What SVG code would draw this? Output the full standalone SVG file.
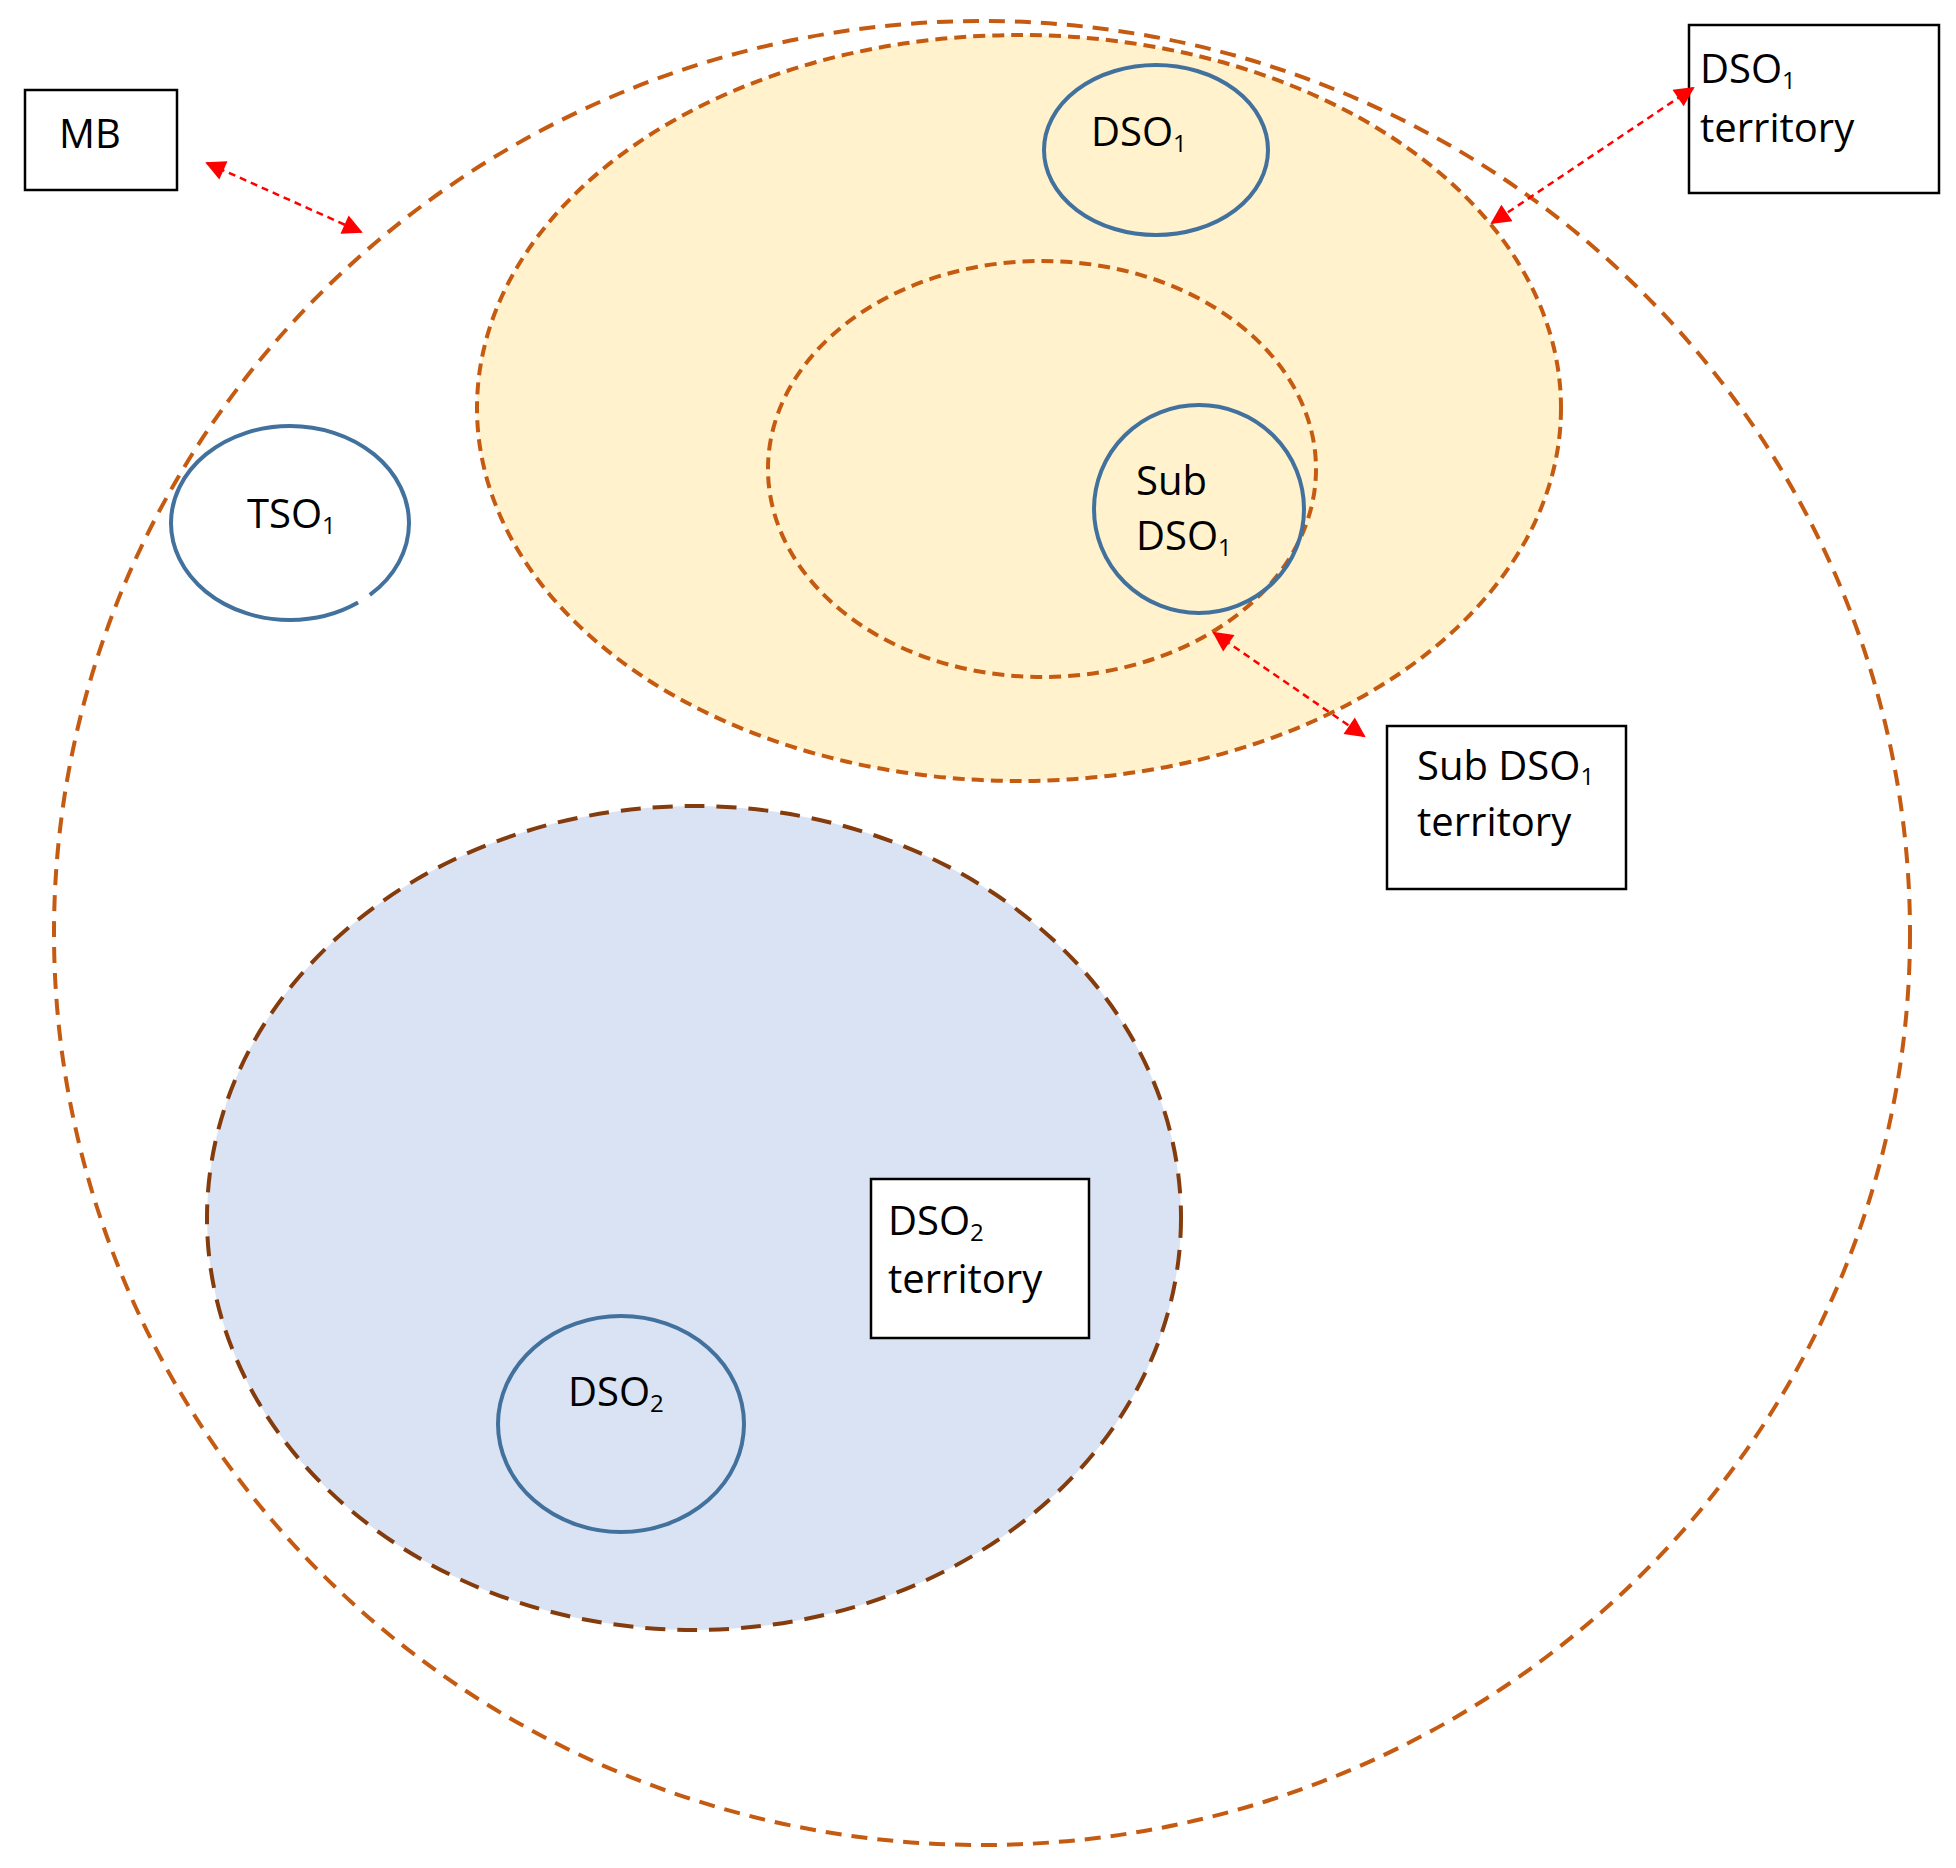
<svg xmlns="http://www.w3.org/2000/svg" width="1956" height="1868" viewBox="0 0 1956 1868">
<defs>
<marker id="ah" viewBox="0 0 10 10" refX="9" refY="5" markerWidth="9" markerHeight="8" orient="auto-start-reverse" markerUnits="strokeWidth"><path d="M0,0 L10,5 L0,10 z" fill="#FF0000"/></marker>
</defs>
<style>
.terr{fill:none;stroke:#C55A11;stroke-width:4;stroke-dasharray:16 10}
.node{fill:none;stroke:#41719C;stroke-width:4}
.box{fill:#fff;stroke:#000;stroke-width:2.5}
.lbl{font-family:"Open Sans","DejaVu Sans",sans-serif;font-size:40px;fill:#000}
.sub{font-size:24px}
.conn{stroke:#FF0000;stroke-width:2.5;stroke-dasharray:7 5;fill:none;marker-start:url(#ah);marker-end:url(#ah)}
</style>
<rect width="1956" height="1868" fill="#fff"/>
<g id="mb-area"><ellipse class="terr" cx="982" cy="933" rx="928" ry="912" stroke-dasharray="22 14"/></g>
<g id="dso1-territory"><ellipse cx="1019" cy="408" rx="542" ry="373" fill="#FFF2CC" stroke="#C55A11" stroke-width="4" stroke-dasharray="12 7"/></g>
<g id="subdso1-territory"><ellipse cx="1042" cy="469" rx="274" ry="208" fill="none" stroke="#C55A11" stroke-width="4" stroke-dasharray="12 7"/></g>
<g id="dso2-territory"><ellipse cx="694" cy="1218" rx="487" ry="412" fill="#DAE3F3" stroke="#843C0C" stroke-width="4" stroke-dasharray="20 12"/></g>
<g id="dso1"><ellipse class="node" cx="1156" cy="150" rx="112" ry="85"/><text class="lbl" x="1091" y="146">DSO<tspan class="sub" dy="6">1</tspan></text></g>
<g id="subdso1"><ellipse class="node" cx="1199" cy="509" rx="105" ry="104"/><text class="lbl" x="1136" y="495">Sub</text><text class="lbl" x="1136" y="550">DSO<tspan class="sub" dy="6">1</tspan></text></g>
<g id="tso1"><ellipse class="node" cx="290" cy="523" rx="119" ry="97" stroke-dasharray="85 14 800"/><text class="lbl" x="247" y="528">TSO<tspan class="sub" dy="6">1</tspan></text></g>
<g id="dso2"><ellipse class="node" cx="621" cy="1424" rx="123" ry="108"/><text class="lbl" x="568" y="1406">DSO<tspan class="sub" dy="6">2</tspan></text></g>
<g id="mb-box"><rect class="box" x="25" y="90" width="152" height="100"/><text class="lbl" x="59" y="148">MB</text></g>
<g id="dso1-box"><rect class="box" x="1689" y="25" width="250" height="168"/><text class="lbl" x="1700" y="83">DSO<tspan class="sub" dy="6">1</tspan></text><text class="lbl" x="1700" y="142">territory</text></g>
<g id="subdso1-box"><rect class="box" x="1387" y="726" width="239" height="163"/><text class="lbl" x="1417" y="780" font-size="33">Sub DSO<tspan class="sub" dy="5" font-size="21">1</tspan></text><text class="lbl" x="1417" y="836">territory</text></g>
<g id="dso2-box"><rect class="box" x="871" y="1179" width="218" height="159"/><text class="lbl" x="888" y="1235">DSO<tspan class="sub" dy="6">2</tspan></text><text class="lbl" x="888" y="1293">territory</text></g>
<g id="connectors">
<line class="conn" x1="207" y1="163" x2="361" y2="232"/>
<line class="conn" x1="1693" y1="88" x2="1492" y2="223"/>
<line class="conn" x1="1214" y1="633" x2="1364" y2="736"/>
</g>
</svg>
